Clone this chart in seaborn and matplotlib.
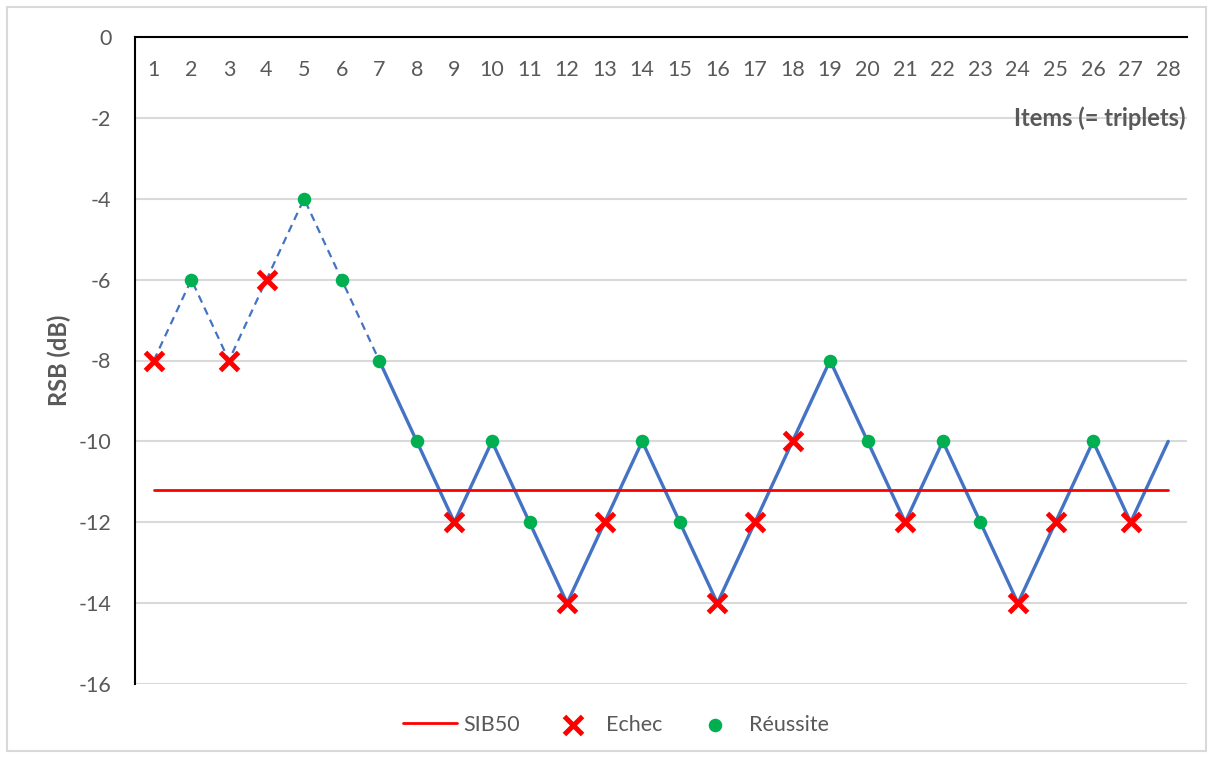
import pandas as pd
import numpy as np
import matplotlib
matplotlib.use('Agg')
import matplotlib.pyplot as plt
import seaborn as sns
from matplotlib.patches import Rectangle

# Données du test (items = triplets)
items = list(range(1, 29))
rsb = [-8, -6, -8, -6, -4, -6, -8, -10, -12, -10, -12, -14, -12, -10,
       -12, -14, -12, -10, -8, -10, -12, -10, -12, -14, -12, -10, -12, -10]
# 'E' = echec, 'R' = reussite, '' = pas de reponse
reponses = ['E', 'R', 'E', 'E', 'R', 'R', 'R', 'R', 'E', 'R', 'R', 'E', 'E', 'R',
            'R', 'E', 'E', 'E', 'R', 'R', 'E', 'R', 'R', 'E', 'E', 'R', 'E', '']
sib50 = -11.2
n_familiarisation = 7   # items 1 a 7 en pointille
y_ticks = list(range(-16, 1, 2))

df = pd.DataFrame({'item': items, 'rsb': rsb, 'rep': reponses})
df_fam = df[df['item'] <= n_familiarisation]
df_test = df[df['item'] >= n_familiarisation]
df_sib = pd.DataFrame({'item': [items[0], items[-1]], 'rsb': [sib50, sib50]})

sns.set_theme(style='white')
plt.rcParams['font.family'] = ['Lato', 'DejaVu Sans']
plt.rcParams['axes.unicode_minus'] = False
gris = '#595959'

fig = plt.figure(figsize=(12.13, 7.58), dpi=100)
ax = fig.add_axes([135 / 1213, 1 - 684 / 758, 1052 / 1213, 647 / 758])

# cadre gris autour de la figure
fig.patches.append(Rectangle((7 / 1213, 7 / 758), 1199 / 1213, 744 / 758,
                             transform=fig.transFigure, fill=False,
                             edgecolor='#D9D9D9', linewidth=1.5))

# courbes bleues
sns.lineplot(data=df_fam, x='item', y='rsb', ax=ax, color='#4472C4',
             linewidth=1.6, linestyle=(0, (3.5, 2.5)), legend=False)
sns.lineplot(data=df_test, x='item', y='rsb', ax=ax, color='#4472C4',
             linewidth=2.4, legend=False)

# SIB50
sns.lineplot(data=df_sib, x='item', y='rsb', ax=ax, color='#FF0000',
             linewidth=2, label='SIB50')

# marqueurs
sns.scatterplot(data=df[df['rep'] == 'E'], x='item', y='rsb', ax=ax,
                marker='x', color='#FF0000', s=170, linewidth=3.6,
                label='Echec', zorder=5)
sns.scatterplot(data=df[df['rep'] == 'R'], x='item', y='rsb', ax=ax,
                marker='o', color='#00B050', s=95, linewidth=0,
                label='Réussite', zorder=5)

ax.set_xlim(0.5, 28.5)
ax.set_ylim(-16, 0)
ax.set_xticks(items)
ax.set_yticks(y_ticks)
ax.yaxis.grid(True, color='#D9D9D9', linewidth=1.5)
ax.xaxis.grid(False)
ax.set_axisbelow(True)

ax.xaxis.tick_top()
ax.tick_params(axis='x', length=0, pad=-31, labelsize=15.5, labelcolor=gris)
ax.tick_params(axis='y', length=0, pad=17, labelsize=15.5, labelcolor=gris)

for side in ['right', 'bottom']:
    ax.spines[side].set_visible(False)
for side in ['left', 'top']:
    ax.spines[side].set_color('black')
    ax.spines[side].set_linewidth(1.5)

ax.set_xlabel('')
ax.set_ylabel('')
fig.text(59 / 1213, 1 - 360 / 758, 'RSB (dB)', rotation=90, ha='center', va='center',
         fontsize=17, fontweight='bold', color=gris)
fig.text(1186 / 1213, 1 - 118 / 758, 'Items (= triplets)',
         ha='right', va='center', fontsize=17, fontweight='bold', color=gris)

if ax.legend_:
    ax.legend_.remove()
handles, labels = ax.get_legend_handles_labels()
fig.legend(handles, labels, loc='center', bbox_to_anchor=(616 / 1213, 1 - 725 / 758),
           ncol=3, frameon=False, fontsize=15.5, labelcolor=gris,
           handlelength=2.5, columnspacing=1.2, handletextpad=0.3)

fig.savefig('out.png', dpi=100)
